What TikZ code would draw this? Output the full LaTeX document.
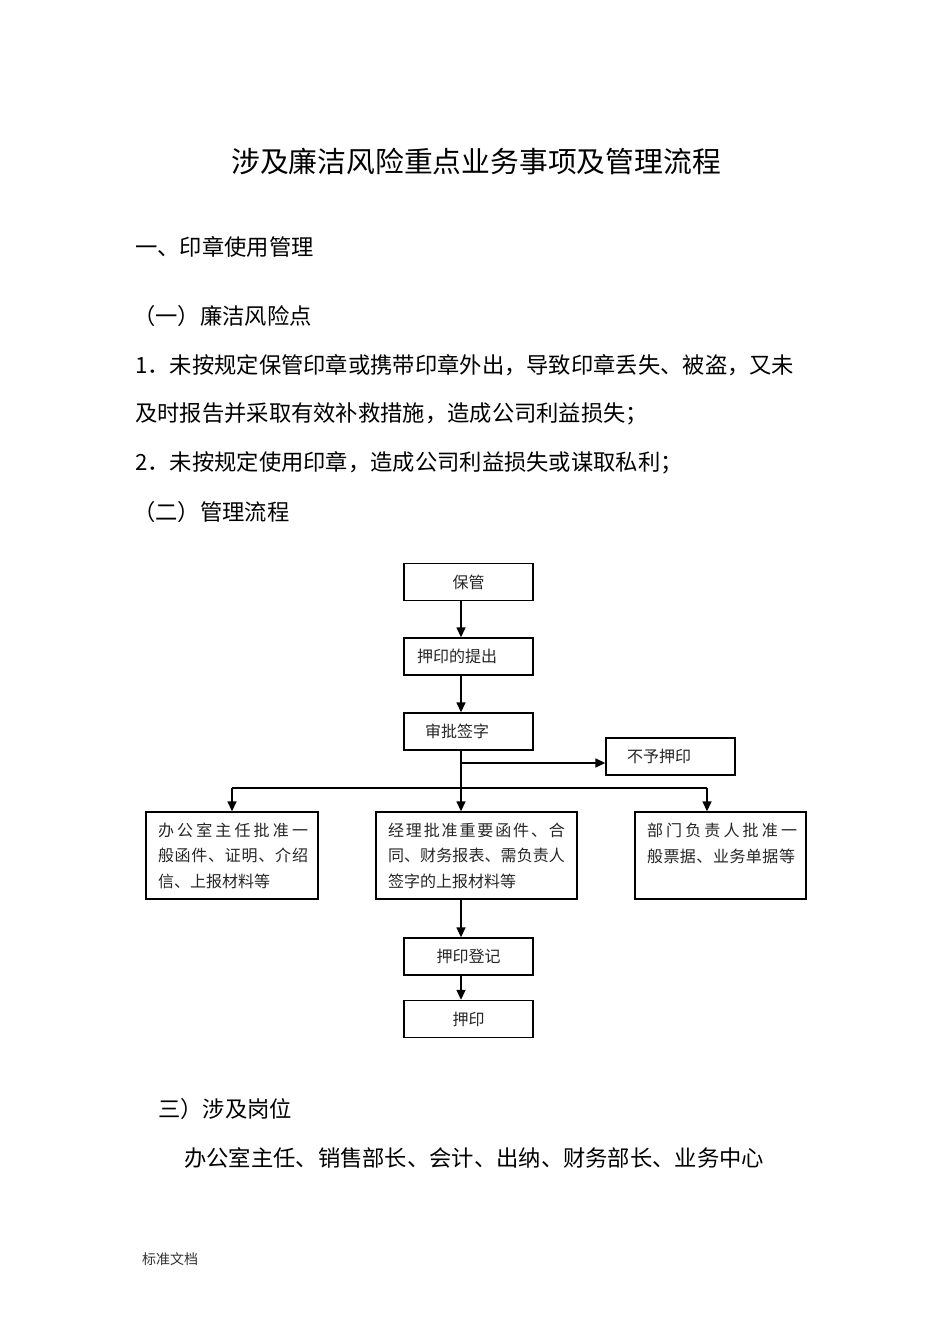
\documentclass[tikz,border=0pt]{standalone}
\usepackage{fontspec}
\setmainfont{Noto Sans CJK SC}
\newfontfamily\cjk{Noto Sans CJK SC}
\usetikzlibrary{arrows.meta}
\makeatletter
\newcommand\spreadline[2]{\leavevmode\hbox to #1{\let\sp@first\relax\@tfor\sp@c:=#2\do{\sp@first\sp@c\def\sp@first{\hfil}}}}
\makeatother
\tikzset{
  body/.style={anchor=west, inner sep=0pt, font=\cjk\fontsize{22.3}{28}\selectfont},
  box/.style={draw, line width=1.4pt, inner sep=0pt, minimum height=37pt,
    text=black!85, font=\cjk\fontsize{16}{25.5}\selectfont},
  cbox/.style={box, minimum width=129pt},
  lbox/.style={box, inner xsep=13pt, text width=103pt, align=left},
  bigbox/.style={box, minimum height=87pt, inner xsep=12pt, align=left},
  arr/.style={line width=1.5pt, -{Triangle[length=10pt,width=9pt]}},
  ln/.style={line width=1.5pt}
}
\begin{document}
\begin{tikzpicture}[x=1pt,y=-1pt]
\useasboundingbox (0,0) rectangle (950,1344);
\fill[white] (0,0) rectangle (950,1344);
% texts
\node[inner sep=0pt, font=\cjk\fontsize{28.8}{32}\selectfont] (title) at (476,162) {涉及廉洁风险重点业务事项及管理流程};
\node[body] (s1) at (135,247) {一、印章使用管理};
\node[body] (s11) at (133,316) {（一）廉洁风险点};
\node[body] (p1) at (135,365) {1．未按规定保管印章或携带印章外出，导致印章丢失、被盗，又未};
\node[body] (p1b) at (135,414) {及时报告并采取有效补救措施，造成公司利益损失；};
\node[body] (p2) at (135,463) {2．未按规定使用印章，造成公司利益损失或谋取私利；};
\node[body] (s12) at (133,512) {（二）管理流程};
\node[body] (s13) at (158,1109) {三）涉及岗位};
\node[body] (posts) at (184,1158) {办公室主任、销售部长、会计、出纳、财务部长、业务中心};
\node[anchor=west, inner sep=0pt, font=\cjk\fontsize{14}{16}\selectfont, text=black!80] (foot) at (142,1259) {标准文档};
% boxes
\node[cbox] (bg) at (468.5,582) {保管};
\node[lbox] (tc) at (468.5,656.5) {押印的提出};
\node[lbox, inner xsep=21pt, text width=87pt] (sp) at (468.5,731.5) {审批签字};
\node[lbox, inner xsep=21pt, text width=87pt] (no) at (670.5,756.5) {不予押印};
\node[bigbox, text width=148pt] (lb) at (232,855.5) {\spreadline{150pt}{办公室主任批准一}\\\spreadline{150pt}{般函件、证明、介绍}\\信、上报材料等};
\node[bigbox, text width=177pt] (mb) at (476.5,855.5) {\spreadline{177pt}{经理批准重要函件、合}\\\spreadline{177pt}{同、财务报表、需负责人}\\签字的上报材料等};
\node[bigbox, text width=147pt] (rb) at (720.5,855.5) {\spreadline{150pt}{部门负责人批准一}\\\spreadline{148pt}{般票据、业务单据等}\\\mbox{}};
\node[cbox] (reg) at (468.5,956.5) {押印登记};
\node[cbox] (stp) at (468.5,1019) {押印};
% connectors
\coordinate (spine) at (461,0);
\coordinate (j1) at (461,763);
\coordinate (hl) at (232,788);
\coordinate (hr) at (707,788);
\draw[arr] (bg.south -| spine) -- (tc.north -| spine);
\draw[arr] (tc.south -| spine) -- (sp.north -| spine);
\draw[arr] (sp.south -| spine) -- (mb.north -| spine);
\draw[arr] (j1) -- (j1 -| no.west);
\draw[ln] (hl) -- (hr);
\draw[arr] (hl) -- (hl |- lb.north);
\draw[arr] (hr) -- (hr |- rb.north);
\draw[arr] (mb.south -| spine) -- (reg.north -| spine);
\draw[arr] (reg.south -| spine) -- (stp.north -| spine);
\end{tikzpicture}
\end{document}
